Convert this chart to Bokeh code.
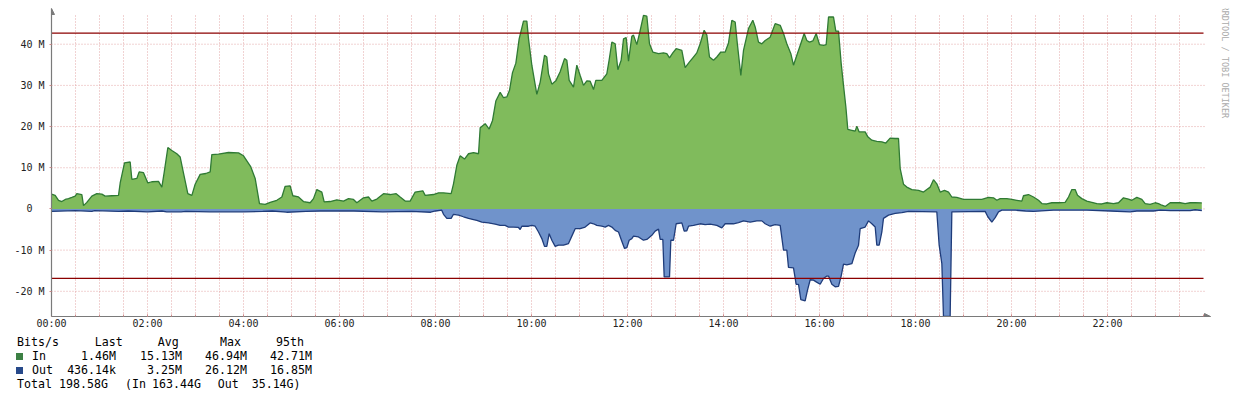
import math
import numpy as np
from bokeh.plotting import figure
from bokeh.layouts import column
from bokeh.models import ColumnDataSource, FixedTicker, Arrow, NormalHead, Range1d, Div
from bokeh.core.properties import value
from bokeh.embed import file_html
from bokeh.resources import INLINE

# ---------------- data (hours of day, Mbit/s) ----------------
in_hours = [0.000, 0.076, 0.146, 0.215, 0.285, 0.354, 0.424, 0.493, 0.528, 0.632, 0.667, 0.736, 0.840, 0.944,
            1.049, 1.118, 1.257, 1.396, 1.431, 1.521, 1.639, 1.674, 1.778, 1.826, 1.917, 2.007, 2.090, 2.229,
            2.299, 2.347, 2.424, 2.507, 2.611, 2.681, 2.750, 2.840, 2.924, 2.993, 3.097, 3.215, 3.306, 3.340,
            3.479, 3.688, 3.896, 4.000, 4.153, 4.243, 4.333, 4.451, 4.556, 4.694, 4.799, 4.868, 4.972, 5.028,
            5.146, 5.250, 5.389, 5.458, 5.528, 5.632, 5.681, 5.806, 5.944, 6.083, 6.188, 6.292, 6.361, 6.500,
            6.604, 6.674, 6.778, 6.917, 7.056, 7.181, 7.264, 7.368, 7.472, 7.576, 7.736, 7.785, 7.958, 8.063,
            8.167, 8.326, 8.375, 8.444, 8.514, 8.604, 8.688, 8.792, 8.896, 8.931, 9.035, 9.118, 9.188, 9.257,
            9.347, 9.417, 9.486, 9.542, 9.604, 9.674, 9.743, 9.833, 9.903, 9.938, 10.007, 10.111, 10.181,
            10.271, 10.319, 10.354, 10.424, 10.507, 10.597, 10.688, 10.736, 10.785, 10.875, 10.944, 11.014,
            11.083, 11.153, 11.222, 11.292, 11.340, 11.465, 11.569, 11.618, 11.674, 11.743, 11.799, 11.868,
            11.917, 11.972, 12.021, 12.090, 12.125, 12.194, 12.250, 12.333, 12.403, 12.458, 12.528, 12.646,
            12.750, 12.819, 12.875, 12.944, 13.014, 13.132, 13.201, 13.292, 13.361, 13.444, 13.514, 13.597,
            13.653, 13.708, 13.792, 13.861, 13.944, 14.035, 14.104, 14.174, 14.243, 14.292, 14.361, 14.417,
            14.521, 14.611, 14.660, 14.729, 14.799, 14.868, 14.972, 15.076, 15.181, 15.250, 15.319, 15.403,
            15.458, 15.528, 15.597, 15.681, 15.736, 15.792, 15.861, 15.931, 16.000, 16.083, 16.139, 16.188,
            16.292, 16.340, 16.396, 16.451, 16.500, 16.549, 16.590, 16.674, 16.743, 16.778, 16.826, 16.951,
            17.007, 17.090, 17.194, 17.299, 17.382, 17.472, 17.576, 17.646, 17.681, 17.750, 17.819, 17.924,
            18.063, 18.167, 18.236, 18.306, 18.375, 18.444, 18.514, 18.604, 18.688, 18.757, 18.861, 19.000,
            19.174, 19.382, 19.521, 19.625, 19.694, 19.764, 19.903, 20.007, 20.111, 20.215, 20.250, 20.354,
            20.458, 20.563, 20.632, 20.736, 20.840, 20.979, 21.118, 21.188, 21.257, 21.326, 21.375, 21.465,
            21.569, 21.674, 21.778, 21.882, 21.986, 22.125, 22.229, 22.333, 22.438, 22.507, 22.611, 22.715,
            22.785, 22.889, 22.993, 23.063, 23.132, 23.201, 23.306, 23.410, 23.514, 23.618, 23.722, 23.826,
            23.965]
in_mbps = [3.6, 3.3, 2.1, 1.8, 2.3, 2.5, 2.8, 3.1, 3.7, 3.5, 0.8, 1.6, 3.1, 3.7,
           3.6, 3.1, 3.2, 3.3, 6.3, 11.2, 11.4, 7.2, 7.4, 9.0, 8.8, 6.3, 6.6, 6.7,
           5.3, 8.8, 14.9, 14.2, 13.4, 12.6, 8.7, 3.7, 3.3, 6.0, 8.4, 8.6, 9.0, 13.2,
           13.3, 13.7, 13.6, 12.9, 10.2, 7.4, 1.3, 1.1, 1.6, 2.1, 2.9, 5.5, 5.6, 3.2,
           2.9, 1.8, 1.5, 2.5, 4.7, 4.1, 1.7, 1.8, 2.2, 1.9, 2.5, 2.3, 1.5, 2.7,
           2.9, 1.9, 2.4, 3.7, 3.5, 3.7, 2.9, 1.9, 1.9, 4.1, 4.4, 3.3, 3.5, 3.9,
           3.9, 3.7, 6.1, 10.6, 12.9, 12.1, 13.4, 13.7, 13.4, 19.7, 20.7, 19.4, 21.5, 26.2,
           28.3, 27.0, 27.2, 28.8, 33.1, 35.4, 41.3, 45.6, 45.6, 41.3, 34.9, 27.8, 30.8,
           37.3, 36.9, 32.8, 30.3, 31.1, 33.3, 36.5, 36.1, 31.2, 29.6, 34.9, 32.4,
           30.0, 31.1, 31.0, 29.0, 31.2, 31.2, 32.8, 36.2, 40.5, 40.1, 33.8, 36.1,
           41.3, 41.6, 35.9, 41.9, 42.2, 39.9, 42.6, 47.0, 46.8, 40.1, 38.1, 37.7,
           37.9, 37.7, 36.7, 37.9, 38.9, 38.5, 34.3, 35.7, 36.7, 37.9, 40.1, 43.4,
           42.2, 36.9, 36.1, 36.9, 38.1, 38.1, 40.3, 45.8, 45.4, 39.7, 32.4, 38.5,
           43.8, 45.8, 44.2, 40.5, 40.1, 40.9, 41.7, 45.0, 44.6, 42.6, 40.1, 37.7,
           34.9, 37.3, 39.7, 42.6, 40.9, 40.5, 40.8, 42.6, 39.9, 39.7, 39.9, 46.6,
           46.6, 43.2, 43.2, 35.4, 30.0, 24.8, 19.3, 19.1, 18.9, 20.1, 18.7, 18.7,
           17.5, 16.7, 16.4, 16.3, 16.0, 17.2, 17.1, 17.1, 9.8, 6.0, 5.3, 4.7,
           4.5, 4.1, 4.7, 5.3, 7.1, 6.1, 4.1, 4.5, 4.1, 2.9, 2.8, 2.3,
           2.3, 2.3, 2.8, 2.7, 2.1, 2.5, 2.5, 2.3, 2.1, 1.9, 3.2, 3.5,
           2.9, 2.1, 1.3, 1.2, 1.5, 1.5, 1.6, 2.9, 4.7, 4.7, 3.3, 2.5,
           1.9, 1.6, 1.3, 1.2, 1.5, 1.3, 1.5, 2.7, 2.4, 2.1, 2.8, 2.3,
           1.3, 1.1, 1.5, 1.3, 0.9, 0.6, 1.5, 1.5, 1.5, 1.3, 1.5, 1.5,
           1.46]

out_hours = [0.000, 0.500, 0.840, 0.900, 1.400, 1.600, 2.000, 2.300, 2.400, 2.700, 2.800, 3.300, 4.000,
             4.400, 4.600, 4.900, 5.300, 5.600, 6.300, 6.900, 7.500, 7.900, 8.000, 8.130,
             8.167, 8.236, 8.326, 8.375, 8.479, 8.583, 8.688, 8.792, 8.861, 8.965, 9.104, 9.243, 9.347,
             9.451, 9.521, 9.625, 9.729, 9.764, 9.799, 9.938, 10.007, 10.076, 10.146, 10.215, 10.271,
             10.319, 10.368, 10.424, 10.493, 10.563, 10.667, 10.771, 10.840, 10.910, 11.014, 11.118,
             11.222, 11.292, 11.361, 11.465, 11.535, 11.604, 11.674, 11.743, 11.813, 11.868, 11.938,
             11.986, 12.035, 12.090, 12.125, 12.229, 12.333, 12.403, 12.507, 12.576, 12.646, 12.681,
             12.736, 12.764, 12.875, 12.903, 12.958, 13.014, 13.132, 13.181, 13.236, 13.271, 13.375,
             13.514, 13.618, 13.722, 13.861, 13.965, 14.035, 14.208, 14.313, 14.417, 14.556, 14.694,
             14.799, 14.868, 14.972, 15.076, 15.181, 15.250, 15.319, 15.354, 15.458, 15.514, 15.563,
             15.611, 15.701, 15.750, 15.806, 15.875, 15.931, 16.014, 16.083, 16.153, 16.188, 16.257,
             16.326, 16.396, 16.451, 16.500, 16.569, 16.674, 16.743, 16.813, 16.847, 16.951, 17.021,
             17.090, 17.160, 17.194, 17.243, 17.299, 17.333, 17.438, 17.576, 17.715, 17.854, 18.444,
             18.493, 18.549, 18.583, 18.722, 18.757, 19.451, 19.507, 19.590, 19.660, 19.729, 19.799,
             20.076, 20.292, 20.458, 20.875, 21.153, 21.569, 22.056, 22.472, 22.611, 22.958, 23.097,
             23.306, 23.722, 23.826, 23.965]
out_mbps = [0.6, 0.4, 0.6, 0.4, 0.6, 0.5, 0.7, 0.5, 0.7, 0.7, 0.6, 0.7, 0.7,
            0.6, 0.5, 0.8, 0.6, 0.5, 0.5, 0.7, 0.6, 0.8, 0.5, 0.3,
            1.3, 2.3, 2.3, 1.3, 1.5, 1.9, 2.3, 2.6, 2.8, 3.2, 3.4, 3.7, 4.0,
            4.0, 4.4, 4.4, 4.5, 5.0, 4.2, 4.2, 4.0, 4.2, 5.6, 7.2, 9.1,
            9.1, 6.0, 7.6, 9.1, 8.8, 8.8, 8.4, 6.6, 4.8, 4.8, 4.4,
            3.4, 3.6, 4.0, 4.2, 4.4, 4.0, 4.4, 5.2, 5.6, 7.4, 9.6,
            9.4, 7.6, 7.2, 6.6, 6.8, 7.6, 7.4, 6.4, 5.4, 4.9, 7.4,
            7.4, 16.5, 16.5, 7.6, 7.6, 3.6, 3.4, 5.4, 5.3, 4.2, 4.0,
            3.6, 3.8, 3.7, 4.0, 4.6, 3.6, 3.6, 3.3, 2.9, 3.2, 2.9,
            2.9, 3.6, 4.2, 3.8, 4.0, 10.0, 10.0, 14.2, 14.3, 18.3, 18.3,
            22.0, 22.3, 19.7, 17.2, 17.3, 17.7, 18.3, 16.9, 16.3, 16.3, 18.3,
            18.9, 18.8, 16.3, 13.4, 13.6, 13.3, 10.7, 8.8, 4.8, 4.4, 2.9,
            3.6, 4.4, 8.8, 8.8, 5.6, 2.3, 1.5, 1.1, 0.9, 0.6, 0.7,
            8.8, 13.3, 26.12, 26.12, 0.7, 0.6, 1.9, 3.2, 2.1, 0.7, 0.3,
            0.3, 0.5, 0.6, 0.3, 0.3, 0.3, 0.5, 0.7, 0.5, 0.5, 0.3,
            0.4, 0.4, 0.2, 0.436]

in_95th = 42.71
out_95th = 16.85
y_bottom = -26.12
y_top = 48.67
grid_top = 47.45
day_end = 24.0

tick_hours = [0, 2, 4, 6, 8, 10, 12, 14, 16, 18, 20, 22]
tick_labels = ["00:00", "02:00", "04:00", "06:00", "08:00", "10:00",
               "12:00", "14:00", "16:00", "18:00", "20:00", "22:00"]
minor_hours = [h / 2 for h in range(0, 49)]
grid_hours = [h / 2 for h in range(1, 48)]
y_ticks = [-20, -10, 0, 10, 20, 30, 40]
y_labels = ["-20 M", "-10 M", "0\u00a0\u00a0", "10 M", "20 M", "30 M", "40 M"]

legend_header = ["Bits/s", "Last", "Avg", "Max", "95th"]
series_names = ["In", "Out"]
in_stats = ["1.46M", "15.13M", "46.94M", "42.71M"]
out_stats = ["436.14k", "3.25M", "26.12M", "16.85M"]
total_parts = ["Total", "198.58G", "(In", "163.44G", "Out", "35.14G)"]
credit_text = "RRDTOOL / TOBI OETIKER"

# ---------------- styles ----------------
MONO = "DejaVu Sans Mono"
IN_FILL, IN_LINE, IN_KEY = "#80bb5c", "#2f7a34", "#3c8044"
OUT_FILL, OUT_LINE, OUT_KEY = "#7093cb", "#1f3c7a", "#27498a"
RULE = "#8b0000"
GRID = "#e3a6a6"
AXIS = "#7a7a7a"

W = 1230
H1 = 334
H2 = 60
PX_PER_H = 48.0
FRAME_LEFT = 51
x_end = (W - FRAME_LEFT) / PX_PER_H
axis_end = (1210 - FRAME_LEFT) / PX_PER_H
grid_right = (1205 - FRAME_LEFT) / PX_PER_H
credit_x = (1224 - FRAME_LEFT) / PX_PER_H

p = figure(width=W, height=H1, x_range=Range1d(0, x_end), y_range=Range1d(y_bottom, y_top),
           output_backend="svg", toolbar_location=None,
           min_border_left=FRAME_LEFT, min_border_right=0, min_border_top=8, min_border_bottom=18)
p.outline_line_color = None
p.background_fill_color = "white"
p.xgrid.visible = False
p.ygrid.visible = False

# grid (dotted, pink)
p.segment(x0=grid_hours, x1=grid_hours, y0=[y_bottom] * len(grid_hours), y1=[grid_top] * len(grid_hours),
          line_color=GRID, line_dash="1 2", line_width=1)
p.segment(x0=[0] * len(y_ticks), x1=[grid_right] * len(y_ticks), y0=y_ticks, y1=y_ticks,
          line_color=GRID, line_dash="1 2", line_width=1)

src_in = ColumnDataSource(dict(x=in_hours, y=in_mbps))
src_out = ColumnDataSource(dict(x=out_hours, y=(-np.array(out_mbps)).tolist()))

p.varea(x="x", y1=0, y2="y", source=src_in, fill_color=IN_FILL)
p.varea(x="x", y1=0, y2="y", source=src_out, fill_color=OUT_FILL)
p.line(x="x", y="y", source=src_in, line_color=IN_LINE, line_width=1.3)
p.line(x="x", y="y", source=src_out, line_color=OUT_LINE, line_width=1.3)

p.segment(x0=[0, 0], x1=[day_end, day_end], y0=[in_95th, -out_95th], y1=[in_95th, -out_95th],
          line_color=RULE, line_width=1.2)

# axes
p.xaxis.ticker = FixedTicker(ticks=tick_hours, minor_ticks=minor_hours)
p.xaxis.major_label_overrides = {h: l for h, l in zip(tick_hours, tick_labels)}
p.xaxis.bounds = (0, axis_end)
p.yaxis.ticker = FixedTicker(ticks=y_ticks, minor_ticks=[])
p.yaxis.major_label_overrides = {t: l for t, l in zip(y_ticks, y_labels)}
for ax in (p.xaxis, p.yaxis):
    ax.axis_line_color = AXIS
    ax.axis_line_width = 1.2
    ax.major_label_text_font = MONO
    ax.major_label_text_font_size = "10px"
    ax.major_label_text_color = "#222222"
    ax.major_tick_line_color = "#d08a8a"
    ax.minor_tick_line_color = "#d08a8a"
p.xaxis.major_tick_in = 2
p.xaxis.major_tick_out = 0
p.xaxis.minor_tick_in = 2
p.xaxis.minor_tick_out = 0
p.xaxis.major_label_standoff = 1
p.yaxis.major_tick_in = 0
p.yaxis.major_tick_out = 2
p.yaxis.major_label_standoff = 5

# axis arrows
p.add_layout(Arrow(end=NormalHead(size=6, fill_color=AXIS, line_color=AXIS),
                   x_start=0, y_start=y_top - 1.0, x_end=0, y_end=y_top, line_color=AXIS))
p.add_layout(Arrow(end=NormalHead(size=6, fill_color=AXIS, line_color=AXIS),
                   x_start=axis_end - 0.2, y_start=y_bottom, x_end=axis_end, y_end=y_bottom,
                   line_color=AXIS))

# credit text (vertical, right side)
p.text(x=[credit_x], y=[y_top + 0.7], text=[credit_text], angle=-math.pi / 2,
       text_align="left", text_baseline="middle", text_font=value(MONO),
       text_font_size="8.5px", text_color="#aaaaaa")

# ---------------- legend (below the chart) ----------------
OFF_Y = H1 + 4.5   # page y of the legend block (compensates the Div's inner offset)
OFF_X = 4


def span(txt, left, cy, align="left"):
    top = cy - OFF_Y - 7
    left = left - OFF_X
    if align == "right":
        return (f'<span style="position:absolute;left:{left - 120:.1f}px;width:120px;text-align:right;'
                f'top:{top:.1f}px;white-space:pre;">{txt}</span>')
    return f'<span style="position:absolute;left:{left:.1f}px;top:{top:.1f}px;white-space:pre;">{txt}</span>'


def square(color, left, top):
    return (f'<div style="position:absolute;left:{left - OFF_X}px;top:{top - OFF_Y:.1f}px;width:7px;height:7px;'
            f'background:{color};"></div>')


rows_y = [341, 355.5, 369, 383.3]
head_left = [16, 93.7, 156.7, 219, 275]
stat_right = [115, 181, 246, 311]
total_left = [16, 58, 124, 151, 216.7, 250.7]

parts = []
for t, x in zip(legend_header, head_left):
    parts.append(span(t, x, rows_y[0]))
parts.append(square(IN_KEY, 15, 352.3))
parts.append(square(OUT_KEY, 15, 366))
parts.append(span(series_names[0], 31, rows_y[1]))
parts.append(span(series_names[1], 31, rows_y[2]))
for t, x in zip(in_stats, stat_right):
    parts.append(span(t, x, rows_y[1], "right"))
for t, x in zip(out_stats, stat_right):
    parts.append(span(t, x, rows_y[2], "right"))
for t, x in zip(total_parts, total_left):
    parts.append(span(t, x, rows_y[3]))

html = (f'<div style="position:relative;width:{W}px;height:{H2}px;font-family:\'{MONO}\',monospace;'
        f'font-size:11.6px;line-height:14px;color:#000;">' + "".join(parts) + "</div>")
legend = Div(text=html, width=W, height=H2)

layout = column(p, legend, spacing=0)
open("out.html", "w").write(file_html(layout, INLINE))
